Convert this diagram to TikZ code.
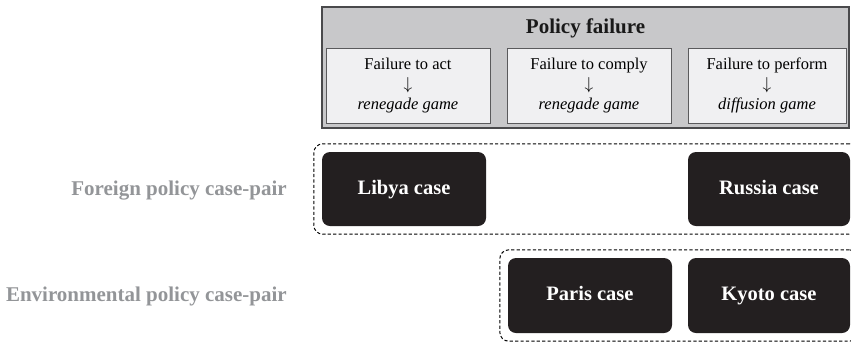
\documentclass[tikz,border=0pt]{standalone}
\usepackage{fontspec}
\setmainfont{Liberation Serif}
\usetikzlibrary{fit}
\definecolor{panelgray}{HTML}{C8C8CA}
\definecolor{panelline}{HTML}{4A4A4C}
\definecolor{cellfill}{HTML}{F0F0F2}
\definecolor{cellline}{HTML}{5A5A5C}
\definecolor{casefill}{HTML}{231F20}
\definecolor{labelgray}{HTML}{939598}
\newcommand{\leadsdown}{$\downarrow$}
\tikzset{
  panel/.style={draw=panelline, fill=panelgray, line width=1.5pt, minimum width=527pt, minimum height=121pt, inner sep=0pt},
  cell/.style={draw=cellline, fill=cellfill, line width=0.8pt, minimum height=75pt, inner sep=0pt, align=center,
    font=\fontsize{16.5}{20}\selectfont},
  casebox/.style={fill=casefill, rounded corners=8pt, minimum height=74pt, text=white, inner sep=0pt,
    text height=14pt, text depth=4pt, font=\fontsize{20.5}{24}\selectfont\bfseries},
  pairbox/.style={draw=black, dashed, dash pattern=on 3.2pt off 2.2pt, line width=1pt, rounded corners=9pt, inner sep=8pt},
  pairlabel/.style={anchor=east, text=labelgray, font=\fontsize{21}{25}\selectfont\bfseries, inner sep=0pt,
    text height=14pt, text depth=4pt},
}
\begin{document}
\begin{tikzpicture}[x=1pt, y=-1pt]
  \useasboundingbox (0,0) rectangle (851,341);
  \clip (0,0) rectangle (851,341);

  % policy failure panel with its three kinds of failure
  \node[panel] (panel) at (585.5,67.5) {};
  \node[font=\fontsize{21}{25}\selectfont\bfseries, text=black!90] (title) at (585.5,28) {Policy failure};
  \node[cell, minimum width=164pt] (act) at (408,85.5)
    {Failure to act\\\leadsdown\\\textit{renegade game}};
  \node[cell, minimum width=164pt] (comply) at (589,85.5)
    {Failure to comply\\\leadsdown\\\textit{renegade game}};
  \node[cell, minimum width=158pt] (perform) at (767,85.5)
    {Failure to perform\\\leadsdown\\\textit{diffusion game}};

  % case boxes
  \node[casebox, minimum width=164pt] (libya) at (404,189) {Libya case};
  \node[casebox, minimum width=162pt] (russia) at (769,189) {Russia case};
  \node[casebox, minimum width=164pt, minimum height=75pt] (paris) at (590,295.5) {Paris case};
  \node[casebox, minimum width=162pt, minimum height=75pt] (kyoto) at (769,295.5) {Kyoto case};

  % case-pair groupings
  \node[pairbox, fit=(libya)(russia)] (foreignpair) {};
  \node[pairbox, fit=(paris)(kyoto)] (envpair) {};

  \node[pairlabel] (foreignlabel) at (287,190) {Foreign policy case-pair};
  \node[pairlabel] (envlabel) at (287,296) {Environmental policy case-pair};
\end{tikzpicture}
\end{document}
